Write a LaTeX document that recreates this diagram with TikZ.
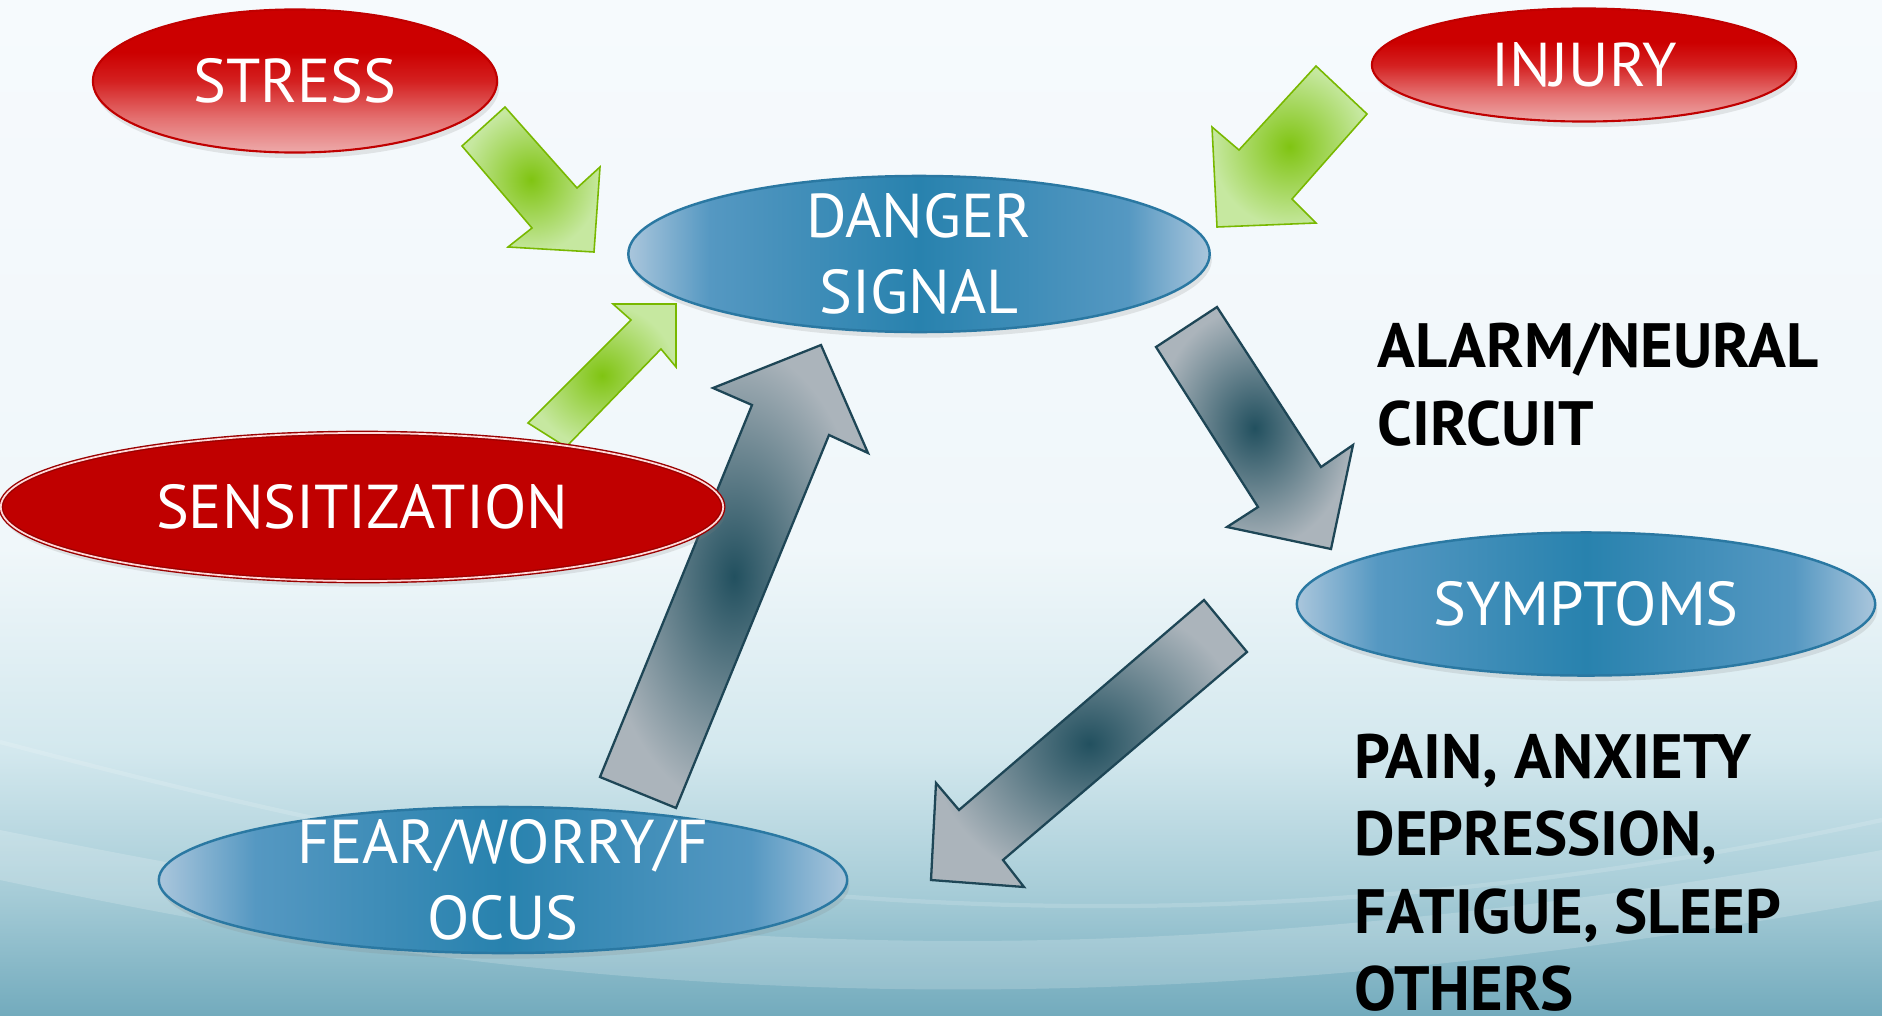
\documentclass[tikz,border=0pt]{standalone}
\usepackage{fontspec}
\setmainfont{PT Sans}
\usetikzlibrary{shapes.geometric,shadows}

\definecolor{bgtop}{HTML}{F6FAFD}
\definecolor{bgone}{HTML}{F0F7FA}
\definecolor{bgtwo}{HTML}{D3E8EE}
\definecolor{bgthree}{HTML}{A6CCD7}
\definecolor{bgbot}{HTML}{73ABBD}
\definecolor{redtop}{HTML}{CC0000}
\definecolor{redmid}{HTML}{D42020}
\definecolor{redlow}{HTML}{E47070}
\definecolor{redpink}{HTML}{EDAAAA}
\definecolor{redline}{HTML}{C00000}
\definecolor{sensline}{HTML}{9A0000}
\definecolor{bluedark}{HTML}{2882AE}
\definecolor{bluemid}{HTML}{5598C2}
\definecolor{bluelight}{HTML}{AAC6DC}
\definecolor{blueline}{HTML}{2A78A2}
\definecolor{greenin}{HTML}{80C412}
\definecolor{greenout}{HTML}{C6E8A0}
\definecolor{greenline}{HTML}{78B800}
\definecolor{slatein}{HTML}{22505F}
\definecolor{slateout}{HTML}{ABB4BB}
\definecolor{slateline}{HTML}{1E4656}

\pgfdeclareverticalshading{bgfade}{100bp}{color(0bp)=(bgbot); color(25bp)=(bgbot); color(31bp)=(bgthree); color(38bp)=(bgtwo); color(48bp)=(bgone); color(75bp)=(bgtop); color(100bp)=(bgtop)}
\pgfdeclareverticalshading{redfade}{100bp}{color(0bp)=(redpink); color(25bp)=(redpink); color(37bp)=(redlow); color(50bp)=(redmid); color(60bp)=(redtop); color(100bp)=(redtop)}
\pgfdeclarehorizontalshading{bluefade}{100bp}{color(0bp)=(bluelight); color(25bp)=(bluelight); color(32bp)=(bluemid); color(50bp)=(bluedark); color(68bp)=(bluemid); color(75bp)=(bluelight); color(100bp)=(bluelight)}

\tikzset{
  oval/.style={ellipse, inner sep=0pt, text=white, font=\fontsize{17.6}{21.6}\selectfont,
    drop shadow={shadow xshift=0.6pt, shadow yshift=-1.6pt, opacity=0.18}},
  redoval/.style={oval, draw=redline, line width=0.6pt, shading=redfade, shade},
  sensoval/.style={oval, fill=redline, draw=sensline, line width=0.4pt, double=white!85!red, double distance=0.5pt},
  blueoval/.style={oval, draw=blueline, line width=0.7pt, shading=bluefade, shade},
  ovaltext/.style={text=white, align=center, inner sep=0pt, font=\fontsize{17.6}{21.6}\selectfont},
  boldtext/.style={align=left, inner sep=0pt, font=\fontsize{17.8}{21.9}\selectfont\bfseries},
  greenarrow/.style={draw=greenline, line width=0.45pt, inner color=greenin, outer color=greenout, line join=miter},
  slatearrow/.style={draw=slateline, line width=0.65pt, inner color=slatein, outer color=slateout, line join=miter}
}

\begin{document}
\begin{tikzpicture}[x=0.01cm, y=-0.01cm]

  \useasboundingbox (0,0) rectangle (1882,1015);

  % Background
  \shade[shading=bgfade] (0,0) rectangle (1882,1015);
  \fill[white, opacity=0.18] (0,830) .. controls (500,930) and (1000,1010) .. (1882,850)
    -- (1882,900) .. controls (1000,1060) and (450,975) .. (0,880) -- cycle;
  \draw[white, opacity=0.15, line width=1.2pt] (0,742) .. controls (450,860) and (1050,1000) .. (1882,820);

  % Green arrows
  \path[greenarrow] (462,146) -- (505,107) -- (577,188) -- (600,167) -- (594,252) -- (508,247) -- (532,228) -- cycle;
  \path[greenarrow] (1316,66) -- (1367,114) -- (1292,199) -- (1316,223) -- (1217,227) -- (1212,127) -- (1239,150) -- cycle;
  \path[greenarrow] (528,423) -- (631,320) -- (613,304) -- (676,304) -- (676,367) -- (661,349) -- (566,447) -- cycle;

  % Loop arrows
  \path[slatearrow] (1217,307) -- (1156,347) -- (1258,507) -- (1227,527) -- (1331,549) -- (1353,445) -- (1321,467) -- cycle;
  \path[slatearrow] (1204,600) -- (1247,652) -- (1003,860) -- (1024,887) -- (931,880) -- (936,783) -- (959,810) -- cycle;
  \path[slatearrow] (600,777) -- (752,405) -- (713,388) -- (821,345) -- (868,453) -- (829,435) -- (676,808) -- cycle;

  % Causes
  \node[redoval, minimum width=4.04cm, minimum height=1.43cm] (stress) at (295,81) {STRESS};
  \node[redoval, minimum width=4.24cm, minimum height=1.13cm] (injury) at (1584,65) {INJURY};
  \node[sensoval, minimum width=7.22cm, minimum height=1.48cm] (sens) at (362,507) {SENSITIZATION};

  % Loop
  \node[blueoval, minimum width=5.81cm, minimum height=1.56cm] (danger) at (919,254) {};
  \node[ovaltext] (dangertxt) at (danger.center) {DANGER\\SIGNAL};
  \node[blueoval, minimum width=5.78cm, minimum height=1.43cm] (symptoms) at (1586,604) {SYMPTOMS};
  \node[blueoval, minimum width=6.88cm, minimum height=1.46cm] (fear) at (503,880) {};
  \node[ovaltext] (feartxt) at (fear.center) {FEAR/WORRY/F\\OCUS};

  % Side notes
  \node[boldtext, anchor=base west] (alarm) at (1377,445) {ALARM/NEURAL\\CIRCUIT};
  \node[boldtext, anchor=base west] (effects) at (1354,1010) {PAIN, ANXIETY\\DEPRESSION,\\FATIGUE, SLEEP\\OTHERS};

\end{tikzpicture}
\end{document}
